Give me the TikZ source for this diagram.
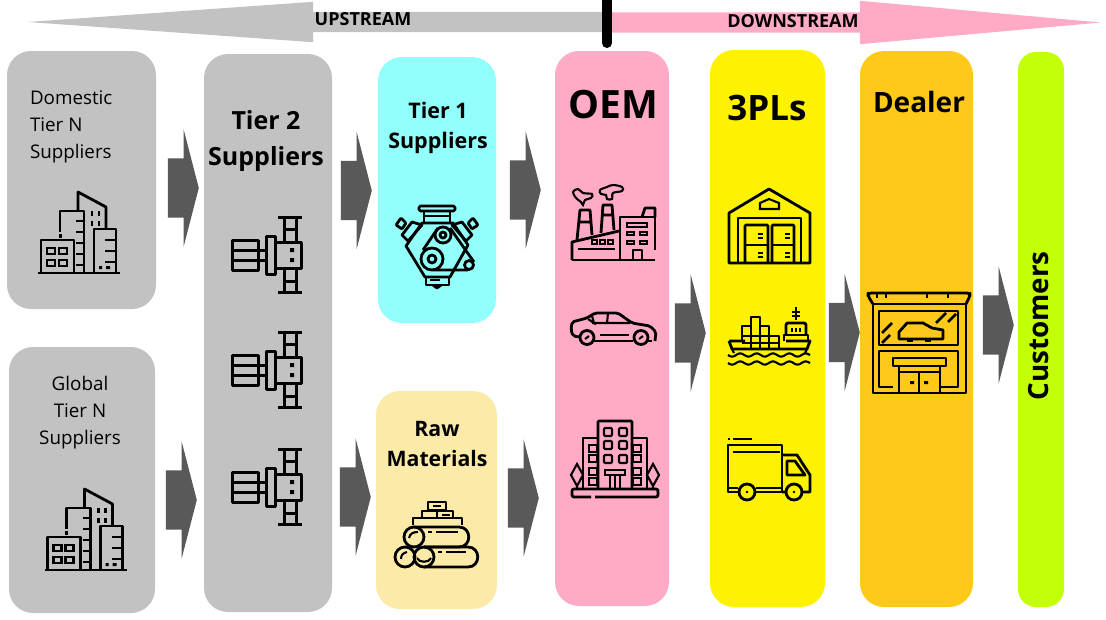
\documentclass[tikz,border=0pt]{standalone}
\usepackage{fontspec}
\setmainfont{Open Sans}
\usetikzlibrary{shapes.arrows}
\definecolor{panelgray}{HTML}{C2C2C2}
\definecolor{arrowgray}{HTML}{595959}
\definecolor{tierone}{HTML}{92FFFB}
\definecolor{rawmat}{HTML}{FCEBA8}
\definecolor{oempink}{HTML}{FFABC6}
\definecolor{plyellow}{HTML}{FFF200}
\definecolor{dealerorange}{HTML}{FFC91A}
\definecolor{custlime}{HTML}{C4FF0A}
\tikzset{
	panel/.style={rectangle,inner sep=0,rounded corners=24},
	flowarrow/.style={single arrow,fill=arrowgray,inner sep=0,inner ysep=29.5,anchor=tip,minimum height=31,single arrow head extend=29,single arrow tip angle=151},
	plainlabel/.style={align=center,font=\fontsize{18.8}{27}\selectfont},
	boldlabel/.style={align=center,font=\bfseries\fontsize{22}{30}\selectfont},
	streamlabel/.style={font=\bfseries\fontsize{18}{20}\selectfont},
	icon/.style={draw=black,line width=2.8pt,line join=round},
	thinicon/.style={draw=black,line width=2.1pt},
	% high-rise group
	pics/cityicon/.style={code={
		\draw[icon] (38,273) -- (120,273);
		\draw[icon] (41,273) -- (41,240) -- (74,240) -- (74,273);
		\foreach \wx/\wy in {47/248,59/248,47/260,59/260}
			\draw[thinicon] (\wx,\wy) rectangle ++(8,6);
		\draw[icon] (60,232) -- (60,211) -- (84,211) -- (84,273);
		\fill (58.5,234) rectangle (61.5,238);
		\foreach \ty in {221,232,243,254,265}
			\draw[thinicon] (76,\ty) -- (84,\ty);
		\draw[icon] (78,211) -- (78,192) -- (106,207) -- (106,229);
		\foreach \wx in {92,99} \foreach \wy in {211,221}
			\draw[thinicon] (\wx,\wy) -- ++(0,5);
		\draw[icon] (94,273) -- (94,229) -- (116,229) -- (116,273);
		\foreach \ty in {240,251,262}
			\draw[thinicon] (105,\ty) -- (116,\ty);
		\fill (99,266) rectangle (102,269) (106,266) rectangle (110,269);
	}},
	% satellite unit
	pics/uniticon/.style={code={
		\tikzset{icon/.append style={line width=3pt}}
		\draw[icon] (232,240) rectangle (258,270);
		\draw[icon] (232,250) -- (258,250) (232,260) -- (258,260);
		\draw[icon] (258,250) -- (266,250) (258,260) -- (266,260);
		\draw[icon] (266,236) rectangle (275,274);
		\draw[icon] (275,242) rectangle (301,268);
		\fill (290,248) rectangle (294,252) (290,258) rectangle (294,262);
		\draw[icon] (278,217) -- (302,217) (284,217) -- (284,242) (296,217) -- (296,242) (284,229) -- (296,229);
		\draw[icon] (278,292) -- (302,292) (284,268) -- (284,292) (296,268) -- (296,292) (284,281) -- (296,281);
	}},
	% engine block
	pics/engineicon/.style={code={
		\draw[icon,rounded corners=1.5] (419,206) rectangle (455,211);
		\draw[icon] (424,211) -- (424,223) (450,211) -- (450,223) (424,216) -- (450,216);
		\draw[icon] (422,223) -- (453,223) -- (468,245) -- (450,277) -- (425,277) -- (406,246) -- cycle;
		\draw[icon] (402,235) -- (412,222) -- (422,225) -- (408,241) -- cycle;
		\draw[icon,rounded corners=1] (396,225) -- (401,218) -- (406,223) -- (402,229) -- cycle;
		\draw[icon] (472,235) -- (462,222) -- (452,225) -- (466,241) -- cycle;
		\draw[icon,rounded corners=1] (478,225) -- (473,218) -- (468,223) -- (472,229) -- cycle;
		\draw[icon] (432,259) circle (11) (432,259) circle (4);
		\draw[icon] (443,235) circle (8) (443,235) circle (3);
		\draw[icon] (469,265) circle (4.5);
		\draw[icon] (423,250) -- (438,228) (450,228) -- (474,262) (433,270) -- (468,270);
		\draw[icon] (426,277) -- (426,285) -- (449,285) -- (449,277);
		\draw[thinicon] (430,280) -- (440,280);
		\draw[icon] (433,285) -- (437,288) -- (441,285);
	}},
	% stacked timber
	pics/logsicon/.style={code={
		\draw[icon] (428,502) rectangle (446,510);
		\draw[thinicon] (433,506) -- (441,506);
		\draw[icon] (422,518) -- (422,511) -- (453,511) -- (453,518) (437,511) -- (437,518);
		\draw[thinicon] (442,515) -- (450,515);
		\draw[icon] (413,525) -- (413,518) -- (462,518) -- (462,525);
		\draw[icon] (414,527) -- (459,527) .. controls (472,527) and (472,547) .. (459,547) -- (424,547);
		\draw[icon] (414,537) circle (10);
		\draw[icon] (424,547) -- (468,547) .. controls (481,547) and (481,567) .. (468,567) -- (424,567);
		\draw[icon] (405,557) circle (10) (424,557) circle (10);
		\draw[thinicon] (409,538) .. controls (410,533) and (414,532) .. (418,532) (401,559) .. controls (401,555) and (403,553) .. (407,552) (417,558) .. controls (419,563) and (429,563) .. (431,558);
		\draw[thinicon] (428,532) -- (432,532) (436,532) -- (458,532) (438,552) -- (442,552) (446,552) -- (466,552);
	}},
	% works with chimneys
	pics/factoryicon/.style={code={
		\draw[icon] (572,260) -- (655,260);
		\draw[icon] (572,260) -- (572,242) -- (619,231);
		\draw[icon] (620,260) -- (620,217) -- (655,217) -- (655,250);
		\draw[icon] (642,217) -- (645,208) -- (655,208) -- (655,217);
		\draw[icon] (577,240) -- (580,210) -- (590,210) -- (592,235) (579,222) -- (591,222);
		\draw[icon] (601,233) -- (603,205) -- (612,205) -- (614,230) (602,215) -- (613,215);
		\draw[thinicon] plot[smooth cycle,tension=0.6] coordinates {(573,192) (578,189) (583,193) (592,194) (591,198) (585,200) (583,205) (581,202) (576,198)};
		\draw[thinicon] plot[smooth cycle,tension=0.6] coordinates {(600,190) (607,187) (613,185) (622,187) (622,191) (613,193) (612,199) (607,199) (606,195) (601,194)};
		\foreach \wx in {592,600,608}
			\draw[thinicon] (\wx,240) rectangle ++(5,4);
		\draw[thinicon] (578,249) -- (615,249);
		\draw[thinicon] (627,223) rectangle (647,227);
		\foreach \wx/\wy in {627/232,640/232,627/241,640/241}
			\draw[thinicon] (\wx,\wy) rectangle ++(7,3);
		\draw[icon] (633,260) -- (633,250) -- (642,250) -- (642,260);
	}},
	% saloon car
	pics/caricon/.style={code={
		\draw[icon,rounded corners=2] (580,337) -- (573,336) -- (571,330) -- (572,322) -- (587,318) -- (595,313) -- (618,313) -- (632,323) -- (650,326) -- (656,332) -- (655,341);
		\draw[icon] (587,337.5) circle (7) (641,337.5) circle (7);
		\draw[thinicon] (585,339) -- (589,336) (639,339) -- (643,336);
		\draw[icon] (600,335) -- (629,335) (594,341) -- (633,341) (648,341) -- (652,341);
		\draw[thinicon] (592,323) -- (630,323) (608,313) -- (607,323) (592,316) -- (594,323) -- (588,319);
	}},
	% office block with trees
	pics/towericon/.style={code={
		\draw[icon,rounded corners=1] (598,488) -- (598,421) -- (632,421) -- (632,488);
		\foreach \wx in {604,619} \foreach \wy in {428,441,455}
			\draw[thinicon,rounded corners=1] (\wx,\wy) rectangle ++(8,8);
		\draw[thinicon] (605,470) rectangle (625,475);
		\draw[thinicon] (610,475) -- (610,488) (615,475) -- (615,488) (620,475) -- (620,488);
		\draw[icon] (583,488) -- (583,438) -- (597,438) (647,488) -- (647,438) -- (633,438);
		\foreach \wy in {445,455,468,478}{
			\draw[thinicon] (589,\wy) rectangle ++(8,7);
			\draw[thinicon] (633,\wy) rectangle ++(8,7);
		}
		\draw[thinicon] (577,464) -- (583,475) -- (577,486) -- (571,475) -- cycle (577,486) -- (577,490);
		\draw[thinicon] (653,464) -- (659,475) -- (653,486) -- (647,475) -- cycle (653,486) -- (653,490);
		\draw[icon,rounded corners=2] (591,497) -- (572,497) -- (572,489) -- (658,489) -- (658,497) -- (595,497);
	}},
	% warehouse shed
	pics/shedicon/.style={code={
		\draw[icon] (729,263) -- (729,213) -- (769,189) -- (810,213) -- (810,263) -- cycle;
		\draw[icon] (738,263) -- (738,218) -- (801,218) -- (801,263);
		\draw[icon,rounded corners=1] (745,263) -- (745,225) -- (768,225) -- (768,263);
		\draw[icon,rounded corners=1] (772,263) -- (772,225) -- (794,225) -- (794,263);
		\draw[thinicon] (745,245) -- (768,245) (772,245) -- (794,245);
		\foreach \hx/\hy in {760/234,760/238,760/253,760/257,787/234,787/238,787/253,787/257}
			\draw[line width=1.4pt] (\hx-2.5,\hy) -- (\hx+2.5,\hy);
		\draw[thinicon] (760,209) -- (760,203) -- (769,199) -- (779,203) -- (779,209) -- cycle;
	}},
	% container vessel
	pics/shipicon/.style={code={
		\draw[icon] (729,341) -- (745,341) (729,341) -- (732,349) -- (745,349) -- (807,349) -- (810,341) -- (786,341);
		\draw[thinicon] (732,349) -- (734,353) (807,349) -- (805,353);
		\draw[icon] (742,341) -- (742,326) -- (751,326) -- (751,317) -- (760,317) -- (760,326) -- (769,326) -- (769,336) -- (779,336) -- (779,349);
		\draw[thinicon] (751,326) -- (751,349) (760,326) -- (760,349) (769,336) -- (769,349) (742,336) -- (769,336) (742,343) -- (779,343);
		\draw[thinicon] (764,326) -- (769,326);
		\draw[icon,rounded corners=2] (786,335) -- (786,323) -- (806,323) -- (806,335);
		\draw[icon] (784,341) -- (784,335) -- (808,335) -- (808,341);
		\draw[thinicon] (792,328) -- (792,332) (796,328) -- (796,332) (800,328) -- (800,332);
		\draw[thinicon] (796,307) -- (796,320) (792,312) -- (800,312) (792,316) -- (800,316);
		\foreach \wavey in {355,363}
			\draw[thinicon] plot[domain=0:82,samples=70,smooth] ({728+\x},{\wavey+1.6*sin(22*\x)});
	}},
	% delivery truck
	pics/truckicon/.style={code={
		\draw[icon] (740,492) -- (728,492) -- (728,445) -- (782,445) -- (782,492) -- (755,492);
		\draw[icon] (782,455) -- (797,455) -- (810,475) -- (810,492) -- (802,492) (786,492) -- (782,492);
		\draw[icon] (787,461) -- (795,461) -- (805,475) -- (787,475) -- cycle;
		\draw[icon] (747,492) circle (8) (794,492) circle (8);
		\fill (747,492) circle (1.3) (794,492) circle (1.3);
		\draw[thinicon] (733,452) -- (780,452) (733,439) -- (752,439) (728,439) -- (730,439);
		\draw[thinicon] (728,488) -- (738,488) (756,488) -- (782,488);
	}},
	% showroom front
	pics/shopicon/.style={code={
		\draw[icon,rounded corners=3] (873,304) -- (868,296) -- (868,293) -- (970,293) -- (970,296) -- (966,304);
		\draw[icon] (873,304) -- (966,304);
		\foreach \tx in {877,886,927,948}
			\draw[thinicon] (\tx,293) -- (\tx,298);
		\draw[icon] (873,304) -- (873,393) -- (966,393) -- (966,304);
		\draw[icon] (879,311) rectangle (958,345);
		\draw[icon] (899,332) -- (899,339) -- (943,339) -- (943,330) -- (932,328) -- (923,323) -- (907,323) -- cycle;
		\draw[icon] (907,341) -- (913,341) (925,341) -- (931,341);
		\draw[icon] (882,333) -- (892,323) (882,343) -- (890,335) (936,323) -- (946,313) (948,322) -- (956,314);
		\draw[icon] (893,387) -- (879,387) -- (879,351) -- (958,351) -- (958,387) -- (940,387);
		\draw[icon] (893,358) rectangle (946,366);
		\draw[icon] (899,366) -- (899,393) (940,366) -- (940,393) (919,372) -- (919,393) (899,372) -- (940,372);
		\fill (910,381) rectangle (914,384) (924,381) rectangle (928,384);
	}},
}
\begin{document}
\begin{tikzpicture}[x=1pt,y=-1pt]
	\useasboundingbox (0,0) rectangle (1106,619);

	% direction band along the top
	\node[single arrow,fill=panelgray,inner sep=0,inner ysep=10,anchor=tip,shape border rotate=180,minimum height=580,single arrow head extend=10,single arrow tip angle=8.1] (upband) at (25,22) {};
	\node[single arrow,fill=oempink,inner sep=0,inner ysep=10,anchor=tip,minimum height=491,single arrow head extend=11.5,single arrow tip angle=10.3] (downband) at (1103,22.5) {};
	\node[streamlabel] (uplabel) at (363,19) {UPSTREAM};
	\node[streamlabel] (downlabel) at (793,21) {DOWNSTREAM};
	\draw[line width=10pt,line cap=round] (607,-2) coordinate (splittop) -- (607,43) coordinate (splitbot);

	% stages
	\node[panel,fill=panelgray,minimum width=149,minimum height=258] (domestic) at (81.5,180) {};
	\node[panel,fill=panelgray,minimum width=146,minimum height=266] (global) at (82,480) {};
	\node[panel,fill=panelgray,minimum width=128,minimum height=558] (tiertwo) at (268,333) {};
	\node[panel,fill=tierone,minimum width=118,minimum height=266] (tierone) at (437,190) {};
	\node[panel,fill=rawmat,minimum width=121,minimum height=218] (raw) at (436.5,500) {};
	\node[panel,fill=oempink,minimum width=114,minimum height=555] (oem) at (612,328.5) {};
	\node[panel,fill=plyellow,minimum width=115,minimum height=557] (tpl) at (767.5,328.5) {};
	\node[panel,fill=dealerorange,minimum width=113,minimum height=556] (dealer) at (916.5,329) {};
	\node[panel,fill=custlime,rounded corners=18,minimum width=46,minimum height=555] (customers) at (1041,329.5) {};

	% labels
	\node[plainlabel,align=left,anchor=west] (domesticlbl) at (26.5,127) {Domestic\\Tier N\\Suppliers};
	\node[plainlabel] (globallbl) at (80,413) {Global\\Tier N\\Suppliers};
	\node[boldlabel,font=\bfseries\fontsize{25}{36}\selectfont] (tiertwolbl) at (266,141) {Tier 2\\Suppliers};
	\node[boldlabel,font=\bfseries\fontsize{21.5}{30}\selectfont] (tieronelbl) at (438,128) {Tier 1\\Suppliers};
	\node[boldlabel,font=\bfseries\fontsize{21.3}{30}\selectfont] (rawlbl) at (437,444) {Raw\\Materials};
	\node[boldlabel,font=\bfseries\fontsize{39}{44}\selectfont] (oemlbl) at (613,105) {OEM};
	\node[boldlabel,font=\bfseries\fontsize{35}{40}\selectfont] (tpllbl) at (767,108) {3PLs};
	\node[boldlabel,font=\bfseries\fontsize{28}{32}\selectfont] (dealerlbl) at (919,102) {Dealer};
	\node[boldlabel,font=\bfseries\fontsize{27.8}{32}\selectfont,rotate=90] (customerslbl) at (1039,326) {Customers};

	% flow arrows between stages
	\node[flowarrow] (a1) at (199,188) {};
	\node[flowarrow] (a2) at (197,500) {};
	\node[flowarrow] (a3) at (372,190.5) {};
	\node[flowarrow] (a4) at (371,497) {};
	\node[flowarrow] (a5) at (541,190) {};
	\node[flowarrow] (a6) at (539,498) {};
	\node[flowarrow] (a7) at (706,333) {};
	\node[flowarrow] (a8) at (860,332.5) {};
	\node[flowarrow] (a9) at (1014,325) {};

	% icons
	\pic at (0,0) {cityicon};
	\pic at (6.5,297) {cityicon};
	\pic at (0,0) {uniticon};
	\pic at (0,115) {uniticon};
	\pic at (0,232) {uniticon};
	\pic at (0,0) {engineicon};
	\pic at (0,0) {logsicon};
	\pic at (0,0) {factoryicon};
	\pic at (0,0) {caricon};
	\pic at (0,0) {towericon};
	\pic at (0,0) {shedicon};
	\pic at (0,0) {shipicon};
	\pic at (0,0) {truckicon};
	\pic at (0,0) {shopicon};
\end{tikzpicture}
\end{document}
